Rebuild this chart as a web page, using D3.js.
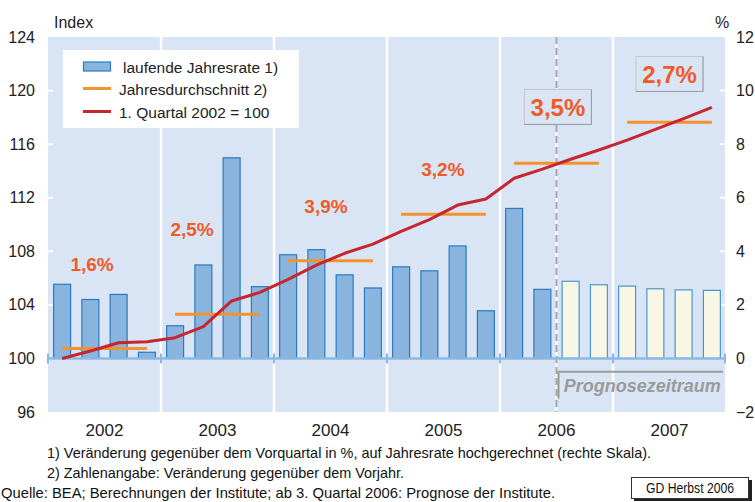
<!DOCTYPE html>
<html><head><meta charset="utf-8">
<script src="https://cdn.jsdelivr.net/npm/d3@7"></script>
<style>
body{margin:0;background:#fff;}
svg{display:block;font-family:"Liberation Sans",Arial,sans-serif;}
</style></head>
<body>
<svg id="chart" width="755" height="502"></svg>
<script>
// ---------- data ----------
const years = ["2002","2003","2004","2005","2006","2007"];
const quarters = ["Q1","Q2","Q3","Q4"];
// laufende Jahresrate (right scale, %)
const barValues = [2.77,2.2,2.39,0.23, 1.22,3.49,7.49,2.68, 3.87,4.06,3.12,2.63, 3.42,3.27,4.2,1.78, 5.6,2.58,2.88,2.75, 2.7,2.6,2.56,2.54];
// forecast flag per quarter (ab 3. Quartal 2006)
const forecast = [0,0,0,0, 0,0,0,0, 0,0,0,0, 0,0,0,0, 0,0,1,1, 1,1,1,1];
// 1. Quartal 2002 = 100 (left scale)
const indexValues = [100,100.55,101.17,101.25, 101.55,102.37,104.29,104.93, 105.9,106.97,107.85,108.54, 109.49,110.37,111.45,111.9, 113.45,114.13,114.87,115.56, 116.3,117.1,117.9,118.75];
// Jahresdurchschnitt (left scale)
const annualAvg = [100.75,103.29,107.3,110.76,114.57,117.63];
const annualLabels = ["1,6%","2,5%","3,9%","3,2%","3,5%","2,7%"];
const leftTicks = [96,100,104,108,112,116,120,124];
const rightTicks = [-2,0,2,4,6,8,10,12];

// ---------- layout ----------
const L = 48, R = 726, T = 37, B = 412;
const svg = d3.select("#chart");
const font = '"Liberation Sans",Arial,sans-serif';
const bg = "#d9e5f4";

const qIds = [];
years.forEach(y => quarters.forEach(q => qIds.push(y + q)));

const xYear = d3.scaleBand().domain(years).range([L, R]).padding(0);
const xQ = d3.scaleBand().domain(qIds).range([L, R]).paddingInner(0.4).paddingOuter(0.2);
const step = xQ.step();
const qCenter = i => xQ(qIds[i]) + xQ.bandwidth() / 2;
const qPos = f => L + step * (f + 0.5); // fractional quarter position
const yL = d3.scaleLinear().domain([96, 124]).range([B, T]);
const yR = d3.scaleLinear().domain([-2, 12]).range([B, T]);

// background
svg.append("rect").attr("x", L).attr("y", T).attr("width", R - L - 1).attr("height", B - T).attr("fill", bg);

// year separators
years.slice(1).forEach(y => {
  svg.append("line").attr("x1", xYear(y)).attr("x2", xYear(y)).attr("y1", T).attr("y2", B)
    .attr("stroke", "#fff").attr("stroke-width", 2.5);
});

// forecast separator (between Q2 and Q3 2006)
const fx = (qCenter(17) + qCenter(18)) / 2;
svg.append("line").attr("x1", fx).attr("x2", fx).attr("y1", T).attr("y2", B)
  .attr("stroke", "#fff").attr("stroke-width", 2);
svg.append("line").attr("x1", fx).attr("x2", fx).attr("y1", T).attr("y2", B)
  .attr("stroke", "#a3a3a3").attr("stroke-width", 2).attr("stroke-dasharray", "7,4");

// small white ticks on plot edges
leftTicks.slice(1, -1).forEach(t => {
  svg.append("line").attr("x1", L).attr("x2", L + 5).attr("y1", yL(t)).attr("y2", yL(t)).attr("stroke", "#fff").attr("stroke-width", 2);
});
rightTicks.slice(1, -1).forEach(t => {
  svg.append("line").attr("x1", R - 6).attr("x2", R - 1).attr("y1", yR(t)).attr("y2", yR(t)).attr("stroke", "#fff").attr("stroke-width", 2);
});

// bars
svg.append("g").selectAll("rect").data(barValues).join("rect")
  .attr("x", (d, i) => xQ(qIds[i]))
  .attr("y", d => yR(d))
  .attr("width", xQ.bandwidth())
  .attr("height", d => yR(0) - yR(d))
  .attr("fill", (d, i) => forecast[i] ? "#f8f7e6" : "#88b4de")
  .attr("stroke", (d, i) => forecast[i] ? "#4a96d0" : "#2a7ac2")
  .attr("stroke-width", 1.2);

// zero line with ticks
const y0 = yR(0);
svg.append("line").attr("x1", L).attr("x2", R - 1).attr("y1", y0).attr("y2", y0).attr("stroke", "#8db8e2").attr("stroke-width", 2.5);
years.concat(["end"]).forEach((y, i) => {
  const x = i < years.length ? xYear(y) : R - 1;
  svg.append("line").attr("x1", x).attr("x2", x).attr("y1", y0 - 5).attr("y2", y0 + 5).attr("stroke", "#8db8e2").attr("stroke-width", 2);
});

// annual averages
svg.append("g").selectAll("line").data(annualAvg).join("line")
  .attr("x1", (d, i) => qCenter(i * 4))
  .attr("x2", (d, i) => qCenter(i * 4 + 3))
  .attr("y1", d => yL(d)).attr("y2", d => yL(d))
  .attr("stroke", "#f4922c").attr("stroke-width", 3);

// index line
svg.append("path").datum(indexValues)
  .attr("d", d3.line().x((d, i) => qCenter(i)).y(d => yL(d)))
  .attr("fill", "none").attr("stroke", "#c8262f").attr("stroke-width", 3).attr("stroke-linejoin", "round");

// percent labels (positions in quarter units / index units)
const labelQ = [1.06, 4.6, 9.34, 13.48, 17.55, 21.5];
const labelY = [107.05, 109.66, 111.38, 114.14, 118.78, 121.24];
const labelBoxed = [0,0,0,0,1,1];
annualLabels.forEach((t, i) => {
  const x = qPos(labelQ[i]), y = yL(labelY[i]);
  if (labelBoxed[i]) {
    const w = 67, h = 35;
    svg.append("rect").attr("x", x - w / 2).attr("y", y - h / 2).attr("width", w).attr("height", h)
      .attr("fill", bg).attr("stroke", "#c4c8cc").attr("stroke-width", 1);
    svg.append("path").attr("d", `M${x + w / 2},${y - h / 2}V${y + h / 2}H${x - w / 2}`)
      .attr("fill", "none").attr("stroke", "#9a9a9a").attr("stroke-width", 1);
  }
  svg.append("text").attr("x", x).attr("y", y).attr("dy", "0.36em")
    .attr("text-anchor", "middle").attr("font-weight", "bold")
    .attr("font-size", labelBoxed[i] ? 24 : 19).attr("fill", "#f05a28").text(t);
});

// Prognosezeitraum bracket
const py = yR(-0.5);
svg.append("path").attr("d", `M${fx + 2},${yR(-1.5)}V${py}H${R - 3}`)
  .attr("fill", "none").attr("stroke", "#9a9a9a").attr("stroke-width", 2);
svg.append("text").attr("x", (fx + R) / 2 + 1).attr("y", yR(-1)).attr("dy", "0.35em")
  .attr("text-anchor", "middle").attr("font-weight", "bold").attr("font-style", "italic")
  .attr("font-size", 18).attr("fill", "#9a9a9a").text("Prognosezeitraum");

// axes
const axL = svg.append("g").attr("transform", `translate(${L},0)`)
  .call(d3.axisLeft(yL).tickValues(leftTicks).tickSize(0).tickPadding(13).tickFormat(d3.format("d")));
axL.select(".domain").remove();
axL.selectAll("text").attr("font-size", 16).attr("font-family", font).attr("fill", "#222");

const axR = svg.append("g").attr("transform", `translate(${R},0)`)
  .call(d3.axisRight(yR).tickValues(rightTicks).tickSize(0).tickPadding(10).tickFormat(d3.format("d")));
axR.select(".domain").remove();
axR.selectAll("text").attr("font-size", 16).attr("font-family", font).attr("fill", "#222");

const axX = svg.append("g").attr("transform", `translate(0,${B})`)
  .call(d3.axisBottom(xYear).tickSize(0).tickPadding(12));
axX.select(".domain").remove();
axX.selectAll("text").attr("font-size", 17).attr("font-family", font).attr("fill", "#222");

svg.append("text").attr("x", 54).attr("y", 28).attr("font-size", 16).attr("fill", "#222").text("Index");
svg.append("text").attr("x", 715).attr("y", 28).attr("font-size", 16).attr("fill", "#222").text("%");

// legend
const lg = svg.append("g");
lg.append("rect").attr("x", 63).attr("y", 50).attr("width", 236).attr("height", 78).attr("fill", "#fff");
lg.append("rect").attr("x", 83.5).attr("y", 62).attr("width", 27).attr("height", 9)
  .attr("fill", "#88b4de").attr("stroke", "#2a7ac2").attr("stroke-width", 1.2);
lg.append("line").attr("x1", 83).attr("x2", 111).attr("y1", 88.5).attr("y2", 88.5).attr("stroke", "#f4922c").attr("stroke-width", 3);
lg.append("line").attr("x1", 83).attr("x2", 111).attr("y1", 111.5).attr("y2", 111.5).attr("stroke", "#c8262f").attr("stroke-width", 3);
[["laufende Jahresrate 1)", 123, 67], ["Jahresdurchschnitt 2)", 119, 89], ["1. Quartal 2002 = 100", 119, 112]].forEach(([t, x, y]) => {
  lg.append("text").attr("x", x).attr("y", y).attr("dy", "0.36em").attr("font-size", 15.5).attr("fill", "#222").text(t);
});

// footnotes
const notes = [
  ["1) Veränderung gegenüber dem Vorquartal in %, auf Jahresrate hochgerechnet (rechte Skala).", 47, 458, 604],
  ["2) Zahlenangabe: Veränderung gegenüber dem Vorjahr.", 47, 478, 357],
  ["Quelle: BEA; Berechnungen der Institute; ab 3. Quartal 2006: Prognose der Institute.", 1, 498, 554]
];
notes.forEach(([t, x, y, w]) => {
  svg.append("text").attr("x", x).attr("y", y).attr("font-size", 15).attr("fill", "#111")
    .attr("textLength", w).attr("lengthAdjust", "spacingAndGlyphs").text(t);
});

// GD box
svg.append("rect").attr("x", 634).attr("y", 480).attr("width", 118).attr("height", 21).attr("fill", "#222");
svg.append("rect").attr("x", 631.5).attr("y", 477.5).attr("width", 117).attr("height", 21).attr("fill", "#fff").attr("stroke", "#333").attr("stroke-width", 1);
svg.append("text").attr("x", 690).attr("y", 493).attr("text-anchor", "middle").attr("font-size", 14.5).attr("fill", "#111")
  .attr("textLength", 88).attr("lengthAdjust", "spacingAndGlyphs").text("GD Herbst 2006");
</script>
</body></html>
